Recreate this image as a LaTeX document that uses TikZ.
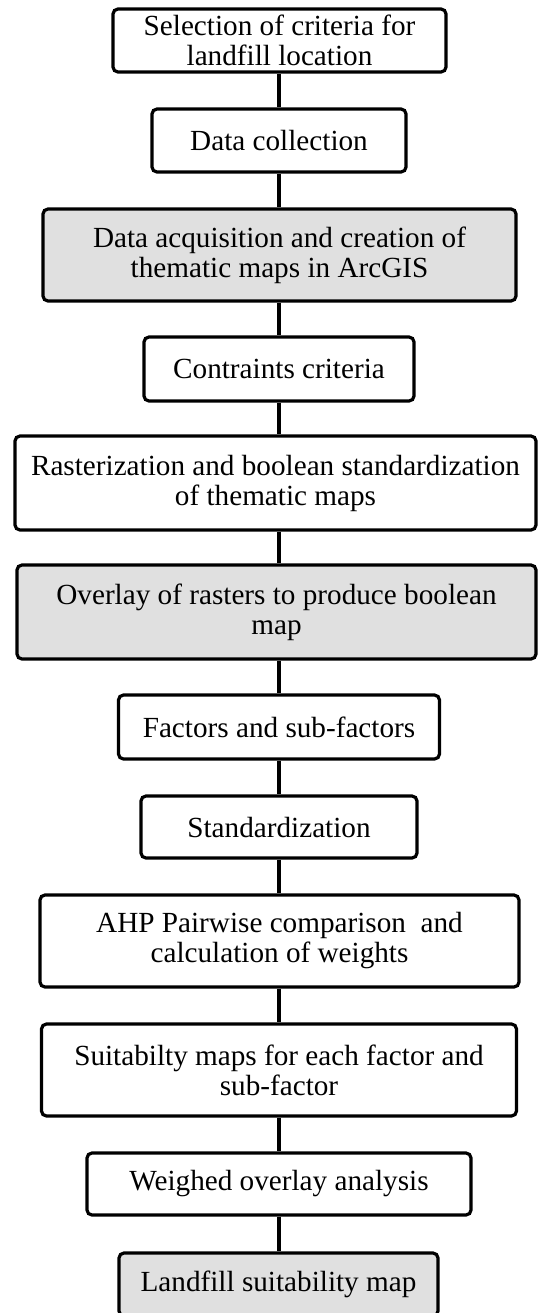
\documentclass[tikz,border=0pt]{standalone}
\usepackage{fontspec}
\setmainfont{Liberation Serif}
\definecolor{boxgray}{RGB}{224,224,224}

\begin{document}
\begin{tikzpicture}[x=0.5pt,y=-0.5pt,
    stage/.style={draw,line width=1.6pt,rounded corners=2.5pt,align=center,inner sep=0pt,
        font=\fontsize{14.6}{15}\selectfont},
    shaded/.style={stage,fill=boxgray}]
    \useasboundingbox (0,0) rectangle (537,1313);
    \coordinate (spine) at (279,0);
    \node[stage,minimum width=166.5pt,minimum height=31.5pt] (criteria) at (279.5,40.5) {Selection of criteria for\\landfill location};
    \node[stage,minimum width=127pt,minimum height=31.5pt] (collect) at (279,140.5) {Data collection};
    \node[shaded,minimum width=236.5pt,minimum height=46pt] (acquire) at (279.5,255) {Data acquisition and creation of\\thematic maps in ArcGIS};
    \node[stage,minimum width=135pt,minimum height=32pt] (constr) at (279,369) {Contraints criteria};
    \node[stage,minimum width=260.5pt,minimum height=47pt] (raster) at (275.5,483) {Rasterization and boolean standardization\\of thematic maps};
    \node[shaded,minimum width=259.5pt,minimum height=47pt] (overlay) at (276.5,612) {Overlay of rasters to produce boolean\\map};
    \node[stage,minimum width=160.5pt,minimum height=32pt] (factors) at (279,727) {Factors and sub-factors};
    \node[stage,minimum width=138pt,minimum height=31pt] (stand) at (279,827) {Standardization};
    \node[stage,minimum width=239.5pt,minimum height=46pt] (ahp) at (279.5,941) {AHP Pairwise comparison~ and\\calculation of weights};
    \node[stage,minimum width=237.5pt,minimum height=46pt] (suit) at (279,1070) {Suitabilty maps for each factor and\\sub-factor};
    \node[stage,minimum width=192pt,minimum height=31pt] (weigh) at (279,1184) {Weighed overlay analysis};
    \node[shaded,minimum width=159.5pt,minimum height=31.5pt] (final) at (278.5,1284.5) {Landfill suitability map};
    \foreach \a/\b in {criteria/collect,collect/acquire,acquire/constr,constr/raster,raster/overlay,
        overlay/factors,factors/stand,stand/ahp,ahp/suit,suit/weigh,weigh/final}
        \draw[line width=1.6pt] (spine |- \a.south) -- (spine |- \b.north);
\end{tikzpicture}
\end{document}
